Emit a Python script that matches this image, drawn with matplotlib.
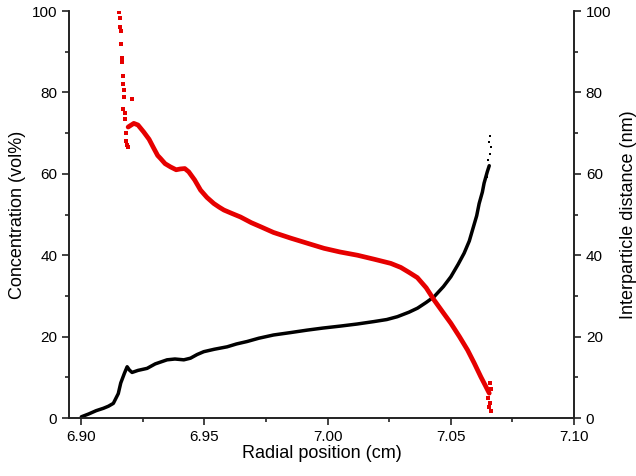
import matplotlib
matplotlib.use("Agg")
import matplotlib.pyplot as plt
from matplotlib.ticker import MultipleLocator

plt.rcParams["font.family"] = ["Liberation Sans", "DejaVu Sans"]

# concentration (left axis), dense band
conc_x = [6.900, 6.903, 6.906, 6.909, 6.911, 6.913, 6.915, 6.916, 6.9175, 6.9186,
          6.9195, 6.9206, 6.923, 6.9267, 6.930, 6.9348, 6.938, 6.9416, 6.9443, 6.947,
          6.9497, 6.954, 6.9592, 6.963, 6.9673, 6.972, 6.978, 6.985, 6.9917, 6.998,
          7.0053, 7.012, 7.0188, 7.024, 7.0283, 7.033, 7.0365, 7.040, 7.0432, 7.047,
          7.050, 7.053, 7.0554, 7.0575, 7.0588, 7.0605, 7.0615, 7.0628, 7.0635, 7.0648,
          7.0656]
conc_y = [0.3, 1.0, 1.8, 2.4, 2.9, 3.6, 6.0, 8.6, 11.0, 12.6,
          11.8, 11.2, 11.7, 12.2, 13.3, 14.3, 14.5, 14.3, 14.7, 15.6,
          16.3, 16.9, 17.5, 18.2, 18.8, 19.6, 20.4, 21.0, 21.6, 22.1,
          22.6, 23.1, 23.7, 24.2, 24.9, 26.0, 27.0, 28.4, 29.8, 32.3,
          34.7, 37.8, 40.5, 43.5, 46.2, 49.7, 52.7, 55.5, 57.7, 60.5,
          62.0]
# sparse points at the cell bottom
conc_tip_x = [7.0648, 7.0650, 7.0658, 7.0662, 7.0655, 7.0660, 7.0652]
conc_tip_y = [59.3, 63.5, 64.8, 66.5, 67.8, 69.2, 61.0]

# interparticle distance (right axis), dense band
dist_x = [6.9190, 6.9213, 6.9230, 6.9253, 6.9275, 6.9294, 6.9310, 6.9321, 6.9340, 6.9362,
          6.9385, 6.9402, 6.9420, 6.9436, 6.9460, 6.9484, 6.9510, 6.9538, 6.9560, 6.9579,
          6.9610, 6.9646, 6.9690, 6.9728, 6.978, 6.985, 6.992, 6.9985, 7.005, 7.0121,
          7.019, 7.0256, 7.0297, 7.033, 7.0364, 7.040, 7.0432, 7.047, 7.050, 7.0535,
          7.0568, 7.0595, 7.0622, 7.064, 7.0656]
dist_y = [71.5, 72.4, 72.0, 70.3, 68.5, 66.3, 64.5, 63.8, 62.5, 61.7,
          61.0, 61.2, 61.3, 60.5, 58.5, 56.0, 54.2, 52.7, 51.8, 51.1,
          50.3, 49.4, 48.0, 47.0, 45.6, 44.2, 42.9, 41.7, 40.8, 40.0,
          39.0, 38.0, 37.0, 35.8, 34.5, 32.0, 29.0, 25.8, 23.3, 20.0,
          16.7, 13.5, 10.1, 8.0, 6.1]
# sparse points near the meniscus and the cell bottom
dist_tip_x = [6.9152, 6.9155, 6.9158, 6.9160, 6.9162, 6.9164, 6.9166, 6.9168, 6.9170,
              6.9172, 6.9174, 6.9170, 6.9176, 6.9178, 6.9180, 6.9182, 6.9185, 6.9188,
              6.9206, 7.0650, 7.0660, 7.0656, 7.0662, 7.0665, 7.0658]
dist_tip_y = [99.7, 98.2, 96.0, 95.2, 92.0, 88.5, 87.5, 84.0, 82.0,
              80.5, 79.0, 76.0, 75.0, 73.5, 70.0, 68.0, 67.0, 66.5,
              78.3, 5.0, 3.8, 2.8, 1.8, 7.2, 8.5]

fig = plt.figure(figsize=(6.36, 4.76), dpi=100)
ax = fig.add_axes([0.1085, 0.1218, 0.794, 0.855])
ax2 = ax.twinx()

ax.plot(conc_x, conc_y, color="black", lw=2.5, solid_capstyle="round")
ax.plot(conc_tip_x, conc_tip_y, "s", color="black", ms=2.0, mew=0)
ax2.plot(dist_x, dist_y, color="#e60000", lw=3.4, solid_capstyle="round")
ax2.plot(dist_tip_x, dist_tip_y, "s", color="#e60000", ms=2.2, mew=0)

for a in (ax, ax2):
    a.set_xlim(6.895, 7.10)
    a.set_ylim(0, 100)
    a.yaxis.set_major_locator(MultipleLocator(20))
    a.yaxis.set_minor_locator(MultipleLocator(10))
    a.spines["top"].set_visible(False)
    for s in a.spines.values():
        s.set_linewidth(1.2)
        s.set_color("#222222")
    a.tick_params(which="major", direction="out", length=5, width=1.2, labelsize=11,
                  color="#222222")
    a.tick_params(which="minor", direction="out", length=3, width=1.2, color="#222222")

ax.xaxis.set_major_locator(MultipleLocator(0.05))
ax.xaxis.set_minor_locator(MultipleLocator(0.025))
ax.set_xticks([6.90, 6.95, 7.00, 7.05, 7.10])
ax.set_xticklabels(["6.90", "6.95", "7.00", "7.05", "7.10"])

ax.set_xlabel("Radial position (cm)", fontsize=13, labelpad=1)
ax.set_ylabel("Concentration (vol%)", fontsize=13, labelpad=4)
ax2.set_ylabel("Interparticle distance (nm)", fontsize=13, labelpad=6)

fig.savefig("out.png", dpi=100)
